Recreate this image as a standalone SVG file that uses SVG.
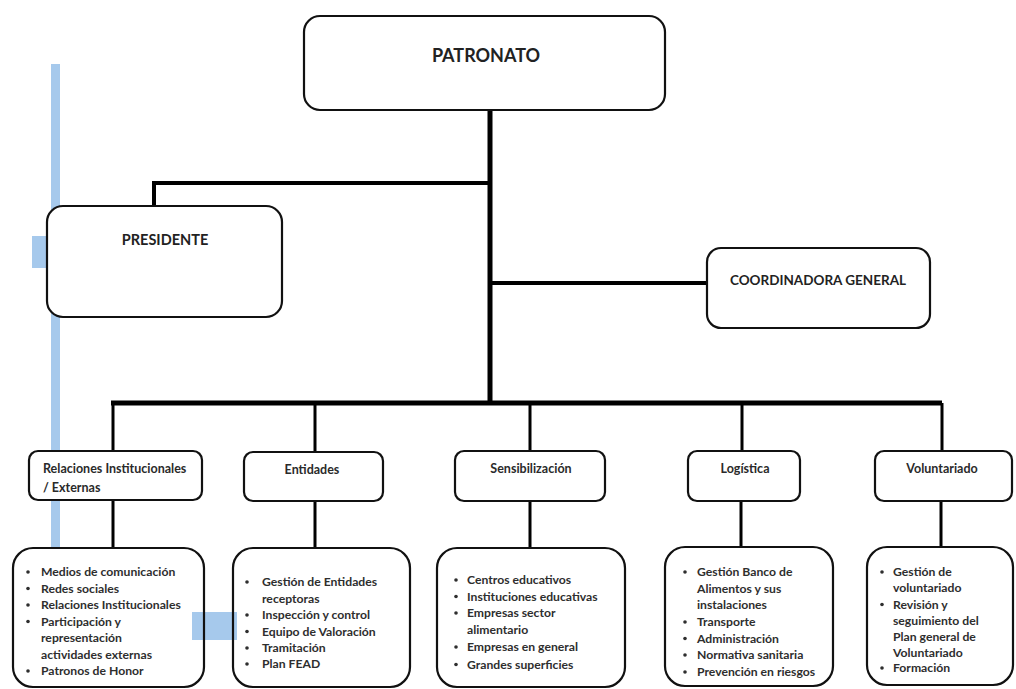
<svg xmlns="http://www.w3.org/2000/svg" width="1016" height="689" viewBox="0 0 1016 689">
<style>
.box{fill:#fff;stroke:#111;stroke-width:2.2}
.lbox{fill:none;stroke:#111;stroke-width:2.2}
.blue{fill:#a6c9ec}
.big{font-family:Lato,"Liberation Sans",sans-serif;font-weight:bold;fill:#222}
.hd{font-family:Lato,"Liberation Sans",sans-serif;font-weight:bold;font-size:12.5px;fill:#2a2a2a}
.li{font-family:Lato,"Liberation Sans",sans-serif;font-weight:bold;font-size:12.2px;fill:#2e2e2e}
.bul{fill:#2e2e2e}
.c5{stroke:#000;stroke-width:5;fill:none}
.c4{stroke:#000;stroke-width:4;fill:none}
.c3{stroke:#000;stroke-width:3;fill:none}
</style>
<rect width="1016" height="689" fill="#fff"/>
<g id="decor">
<rect class="blue" x="51" y="64" width="9" height="484"/>
<rect class="blue" x="32" y="236" width="16" height="32"/>
<rect class="blue" x="192" y="612" width="45" height="28"/>
</g>
<g id="connectors">
<path class="c5" d="M490 110 V403"/>
<path class="c4" d="M490 183 H154 V206"/>
<path class="c4" d="M490 283 H707"/>
<path class="c5" d="M111 403 H942"/>
<path class="c3" d="M113 403 V451 M315 403 V452 M530 403 V451 M742 403 V451 M942 403 V451"/>
<path class="c3" d="M113 500 V548 M315 501 V548 M530 501 V548 M741 501 V547 M941 501 V547"/>
</g>
<g id="patronato">
<rect class="box" x="304" y="16" width="361" height="94" rx="16"/>
<text class="big" x="486" y="62" font-size="18" text-anchor="middle">PATRONATO</text>
</g>
<g id="presidente">
<rect class="box" x="47" y="206" width="235" height="111" rx="16"/>
<text class="big" x="165" y="245" font-size="14.5" text-anchor="middle">PRESIDENTE</text>
</g>
<g id="coordinadora">
<rect class="box" x="707" y="248" width="223" height="80" rx="14"/>
<text class="big" x="818" y="285" font-size="13.5" text-anchor="middle">COORDINADORA GENERAL</text>
</g>
<g id="relaciones">
<rect class="box" x="29" y="451" width="173" height="49" rx="9"/>
<text class="hd" x="43" y="473">Relaciones Institucionales</text>
<text class="hd" x="43" y="492">/ Externas</text>
</g>
<g id="entidades">
<rect class="box" x="244" y="452" width="139" height="49" rx="9"/>
<text class="hd" x="312" y="474" text-anchor="middle">Entidades</text>
</g>
<g id="sensibilizacion">
<rect class="box" x="455" y="451" width="150" height="50" rx="9"/>
<text class="hd" x="531" y="473" text-anchor="middle">Sensibilización</text>
</g>
<g id="logistica">
<rect class="box" x="688" y="451" width="112" height="50" rx="9"/>
<text class="hd" x="745" y="473" text-anchor="middle">Logística</text>
</g>
<g id="voluntariado">
<rect class="box" x="875" y="451" width="137" height="50" rx="9"/>
<text class="hd" x="942" y="473" text-anchor="middle">Voluntariado</text>
</g>
<g id="list-relaciones">
<rect class="lbox" x="13" y="548" width="191" height="139" rx="20"/>
<circle class="bul" cx="28" cy="572" r="1.8"/>
<circle class="bul" cx="28" cy="588.5" r="1.8"/>
<circle class="bul" cx="28" cy="605" r="1.8"/>
<circle class="bul" cx="28" cy="621.5" r="1.8"/>
<circle class="bul" cx="28" cy="671" r="1.8"/>
<text class="li" x="41" y="576">Medios de comunicación</text>
<text class="li" x="41" y="592.5">Redes sociales</text>
<text class="li" x="41" y="609">Relaciones Institucionales</text>
<text class="li" x="41" y="625.5">Participación y</text>
<text class="li" x="41" y="642">representación</text>
<text class="li" x="41" y="658.5">actividades externas</text>
<text class="li" x="41" y="675">Patronos de Honor</text>
</g>
<g id="list-entidades">
<rect class="lbox" x="233" y="548" width="177" height="139" rx="20"/>
<circle class="bul" cx="247" cy="582" r="1.8"/>
<circle class="bul" cx="247" cy="615" r="1.8"/>
<circle class="bul" cx="247" cy="631.5" r="1.8"/>
<circle class="bul" cx="247" cy="648" r="1.8"/>
<circle class="bul" cx="247" cy="664" r="1.8"/>
<text class="li" x="262" y="586">Gestión de Entidades</text>
<text class="li" x="262" y="602.5">receptoras</text>
<text class="li" x="262" y="619">Inspección y control</text>
<text class="li" x="262" y="635.5">Equipo de Valoración</text>
<text class="li" x="262" y="652">Tramitación</text>
<text class="li" x="262" y="668">Plan FEAD</text>
</g>
<g id="list-sensibilizacion">
<rect class="lbox" x="437" y="548" width="188" height="139" rx="20"/>
<circle class="bul" cx="456" cy="580" r="1.8"/>
<circle class="bul" cx="456" cy="596.5" r="1.8"/>
<circle class="bul" cx="456" cy="613" r="1.8"/>
<circle class="bul" cx="456" cy="647" r="1.8"/>
<circle class="bul" cx="456" cy="664.5" r="1.8"/>
<text class="li" x="467" y="584">Centros educativos</text>
<text class="li" x="467" y="600.5">Instituciones educativas</text>
<text class="li" x="467" y="617">Empresas sector</text>
<text class="li" x="467" y="634">alimentario</text>
<text class="li" x="467" y="651">Empresas en general</text>
<text class="li" x="467" y="668.5">Grandes superficies</text>
</g>
<g id="list-logistica">
<rect class="lbox" x="665" y="547" width="168" height="139" rx="20"/>
<circle class="bul" cx="685" cy="572" r="1.8"/>
<circle class="bul" cx="685" cy="622" r="1.8"/>
<circle class="bul" cx="685" cy="638.5" r="1.8"/>
<circle class="bul" cx="685" cy="655" r="1.8"/>
<circle class="bul" cx="685" cy="672" r="1.8"/>
<text class="li" x="697" y="576">Gestión Banco de</text>
<text class="li" x="697" y="592.5">Alimentos y sus</text>
<text class="li" x="697" y="609">instalaciones</text>
<text class="li" x="697" y="626">Transporte</text>
<text class="li" x="697" y="642.5">Administración</text>
<text class="li" x="697" y="659">Normativa sanitaria</text>
<text class="li" x="697" y="676">Prevención en riesgos</text>
</g>
<g id="list-voluntariado">
<rect class="lbox" x="867" y="547" width="146" height="138" rx="20"/>
<circle class="bul" cx="882" cy="572" r="1.8"/>
<circle class="bul" cx="882" cy="604.5" r="1.8"/>
<circle class="bul" cx="882" cy="668" r="1.8"/>
<text class="li" x="893" y="576">Gestión de</text>
<text class="li" x="893" y="592">voluntariado</text>
<text class="li" x="893" y="608.5">Revisión y</text>
<text class="li" x="893" y="624.5">seguimiento del</text>
<text class="li" x="893" y="641">Plan general de</text>
<text class="li" x="893" y="657">Voluntariado</text>
<text class="li" x="893" y="672">Formación</text>
</g>
</svg>
